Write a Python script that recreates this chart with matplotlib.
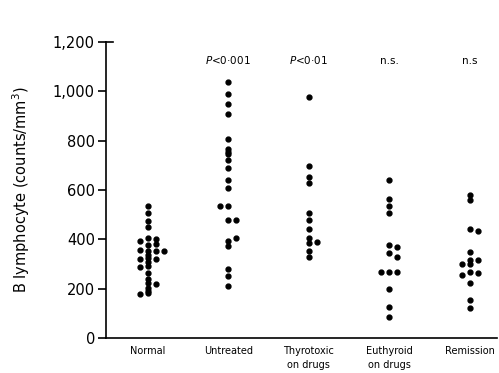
import numpy as np
import matplotlib
matplotlib.use("Agg")
import matplotlib.pyplot as plt

# --- data (counts/mm^3) ---
groups = ["Normal", "Untreated", "Thyrotoxic\non drugs", "Euthyroid\non drugs", "Remission"]
p_labels = [None, "$P$<0·001", "$P$<0·01", "n.s.", "n.s"]

# values, and which column of the dot stack each dot sits in (0 = centre)
normal_vals = [536, 505, 474, 451, 404, 377, 353, 336, 323, 309, 292, 265, 238, 222, 204, 190, 181,
               395, 357, 320, 289, 178,
               400, 381, 353, 319, 219,
               353]
normal_cols = [0] * 17 + [-1] * 5 + [1] * 5 + [2]

untreated_vals = [1039, 988, 947, 908, 808, 765, 755, 745, 722, 688, 641, 607, 535, 478, 393, 373, 278, 251, 211,
                  535,
                  478, 404]
untreated_cols = [0] * 19 + [-1] + [1, 1]

thyro_vals = [978, 698, 651, 627, 505, 478, 442, 405, 385, 353, 327,
              388]
thyro_cols = [0] * 11 + [1]

euthyroid_vals = [641, 562, 535, 508, 376, 346, 269, 197, 124, 86,
                  368, 330, 269,
                  269]
euthyroid_cols = [0] * 10 + [1] * 3 + [-1]

remission_vals = [581, 560, 440, 350, 316, 300, 266, 222, 154, 120,
                  432, 316, 262,
                  300, 255]
remission_cols = [0] * 10 + [1] * 3 + [-1] * 2

all_vals = [normal_vals, untreated_vals, thyro_vals, euthyroid_vals, remission_vals]
all_cols = [normal_cols, untreated_cols, thyro_cols, euthyroid_cols, remission_cols]

COL_STEP = 0.1   # horizontal spacing of side-by-side dots

fig = plt.figure(figsize=(4.99, 3.73), dpi=100)
ax = fig.add_axes([106 / 499, 35 / 373, 391 / 499, 296 / 373])

for i, (vals, cols) in enumerate(zip(all_vals, all_cols)):
    x = i + COL_STEP * np.array(cols)
    ax.plot(x, vals, "o", color="black", ms=3.5, mec="black", clip_on=False)
    if p_labels[i]:
        ax.text(i, 1125, p_labels[i], ha="center", va="center", fontsize=7.5)

ax.set_xlim(-0.52, 4.34)
ax.set_ylim(0, 1200)
ax.set_yticks(range(0, 1201, 200))
ax.set_yticklabels(["0", "200", "400", "600", "800", "1,000", "1,200"])
ax.set_xticks(range(len(groups)))
ax.set_xticklabels(groups, fontsize=7, linespacing=1.4, va="top")
ax.tick_params(axis="x", length=0, pad=6)
ax.tick_params(axis="y", length=6, width=1.2, labelsize=10.5, pad=2)

# the top tick crosses the spine
ax.plot([-0.52, -0.43], [1200, 1200], color="black", lw=1.2, clip_on=False)

ax.spines["top"].set_visible(False)
ax.spines["right"].set_visible(False)
ax.spines["left"].set_linewidth(1.2)
ax.spines["bottom"].set_linewidth(1.2)

ax.set_ylabel("B lymphocyte (counts/mm$^3$)", fontsize=10.5, labelpad=15)

fig.savefig("out.png", dpi=100)
